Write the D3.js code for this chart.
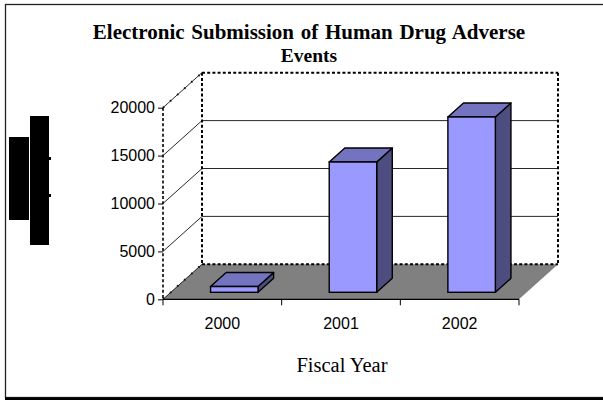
<!DOCTYPE html>
<html><head><meta charset="utf-8">
<script src="https://cdn.jsdelivr.net/npm/d3@7"></script>
<style>body{margin:0;background:#fff}</style>
</head><body><svg id="chart" width="603" height="400"></svg>
<script>
// Data
const years = ["2000", "2001", "2002"];
const submissions = [600, 13600, 18300];
const yTicks = [0, 5000, 10000, 15000, 20000];
const gridValues = [5000, 10000, 15000];
const titleLines = ["Electronic Submission of Human Drug Adverse", "Events"];
const xTitle = "Fiscal Year";

const svg = d3.select("#chart");

// Front plane of the 3D box and the depth vector for the back wall
const L = 163, R = 519;
const dx = 39, dy = -35;
const y = d3.scaleLinear().domain([0, 20000]).range([299.3, 107.7]);
const x = d3.scaleBand().domain(years).range([L, R]);
const bw = x.bandwidth();

// Outer frame
svg.append("rect").attr("x", 5.5).attr("y", 4.5).attr("width", 620).attr("height", 393)
  .attr("fill", "none").attr("stroke", "#222").attr("stroke-width", 1.3);
svg.append("line").attr("x1", 5).attr("x2", 603).attr("y1", 398.8).attr("y2", 398.8)
  .attr("stroke", "#000").attr("stroke-width", 2.4);

// Title
const titleSizes = [21, 19.5];
svg.append("text").attr("x", 309).attr("y", 38.5)
  .attr("text-anchor", "middle")
  .style("font-family", "'Liberation Serif', 'Times New Roman', serif")
  .style("font-weight", "bold")
  .selectAll("tspan").data(titleLines).join("tspan")
  .attr("x", 309).attr("dy", (d, i) => i === 0 ? 0 : 23.5)
  .style("font-size", (d, i) => titleSizes[i] + "px")
  .style("word-spacing", (d, i) => i === 0 ? "1.5px" : "0px")
  .text(d => d);

// Floor
const b0 = y(0);
svg.append("polygon")
  .attr("points", [[L, b0], [R, b0], [R + dx, b0 + dy], [L + dx, b0 + dy]].map(p => p.join(",")).join(" "))
  .attr("fill", "#808080");

// Back-wall gridlines and side-wall diagonals
gridValues.forEach(v => {
  svg.append("line").attr("x1", L + dx).attr("x2", R + dx)
    .attr("y1", y(v) + dy).attr("y2", y(v) + dy)
    .attr("stroke", "#111").attr("stroke-width", 0.9);
  svg.append("line").attr("x1", L).attr("y1", y(v)).attr("x2", L + dx).attr("y2", y(v) + dy)
    .attr("stroke", "#111").attr("stroke-width", 0.9);
});
// Top and floor diagonals of the side wall
[20000, 0].forEach(v => {
  svg.append("line").attr("x1", L).attr("y1", y(v)).attr("x2", L + dx).attr("y2", y(v) + dy)
    .attr("stroke", "#111").attr("stroke-width", 0.9);
  svg.append("line").attr("x1", L).attr("y1", y(v)).attr("x2", L + dx).attr("y2", y(v) + dy)
    .attr("stroke", "#111").attr("stroke-width", 2).attr("stroke-dasharray", "1.5,8");
});

// Dashed box edges
const dash = (x1, y1, x2, y2, w) => svg.append("line")
  .attr("x1", x1).attr("y1", y1).attr("x2", x2).attr("y2", y2)
  .attr("stroke", "#000").attr("stroke-width", w).attr("stroke-dasharray", "3,2.2");
const topBack = y(20000) + dy, floorBack = y(0) + dy;
dash(L + dx, topBack, R + dx, topBack, 2);
dash(L + dx, topBack, L + dx, floorBack, 2);
dash(R + dx, topBack, R + dx, floorBack, 2);
dash(L + dx, floorBack, R + dx, floorBack, 2);
dash(L, y(20000), L, y(0), 1.6);

// Bars
const f0 = 0.2, fd = 0.4;
const bars = svg.append("g").selectAll("g").data(years.map((yr, i) => ({ yr, v: submissions[i] }))).join("g");
bars.each(function (d) {
  const g = d3.select(this);
  const fx = x(d.yr) + 0.335 * bw + dx * f0;
  const w = 0.4 * bw;
  const base = y(0) + dy * f0;
  const top = y(d.v) + dy * f0;
  const ddx = dx * fd, ddy = dy * fd;
  const pts = a => a.map(p => p.join(",")).join(" ");
  g.append("polygon")
    .attr("points", pts([[fx + w, top], [fx + w + ddx, top + ddy], [fx + w + ddx, base + ddy], [fx + w, base]]))
    .attr("fill", "#4d4d80").attr("stroke", "#000").attr("stroke-width", 1.4).attr("stroke-linejoin", "round");
  g.append("polygon")
    .attr("points", pts([[fx, top], [fx + w, top], [fx + w + ddx, top + ddy], [fx + ddx, top + ddy]]))
    .attr("fill", "#7373bf").attr("stroke", "#000").attr("stroke-width", 1.4).attr("stroke-linejoin", "round");
  g.append("rect").attr("x", fx).attr("y", top).attr("width", w).attr("height", base - top)
    .attr("fill", "#9999ff").attr("stroke", "#000").attr("stroke-width", 1.4);
});

// Value axis
const yAxis = svg.append("g").attr("transform", `translate(${L},0)`)
  .call(d3.axisLeft(y).tickValues(yTicks).tickSize(5).tickPadding(3).tickFormat(d3.format("d")));
yAxis.select(".domain").remove();
yAxis.selectAll("line").attr("stroke", "#000");
yAxis.selectAll("text").attr("fill", "#000")
  .style("font", "16px 'Liberation Sans', Arial, sans-serif");

// Category axis
svg.append("line").attr("x1", L).attr("x2", R).attr("y1", b0).attr("y2", b0)
  .attr("stroke", "#000").attr("stroke-width", 1.2);
const edges = years.map(d => x(d)).concat([R]);
svg.append("g").selectAll("line").data(edges).join("line")
  .attr("x1", d => d).attr("x2", d => d).attr("y1", b0).attr("y2", b0 + 6)
  .attr("stroke", "#000");
const xAxis = svg.append("g").attr("transform", `translate(0,${b0})`)
  .call(d3.axisBottom(x).tickSize(0).tickPadding(18));
xAxis.select(".domain").remove();
xAxis.selectAll("text").attr("fill", "#000")
  .style("font", "16px 'Liberation Sans', Arial, sans-serif");

// Axis title
svg.append("text").attr("x", 342).attr("y", 371.5).attr("text-anchor", "middle")
  .style("font", "20.5px 'Liberation Serif', 'Times New Roman', serif")
  .text(xTitle);

// Solid blocks at the left edge
svg.append("rect").attr("x", 9).attr("y", 137).attr("width", 20).attr("height", 83).attr("fill", "#000");
svg.append("rect").attr("x", 30).attr("y", 116).attr("width", 19).attr("height", 129).attr("fill", "#000");
svg.append("rect").attr("x", 49).attr("y", 157).attr("width", 2).attr("height", 3).attr("fill", "#000");
svg.append("rect").attr("x", 49).attr("y", 194).attr("width", 2).attr("height", 3).attr("fill", "#000");
</script>
</body></html>
